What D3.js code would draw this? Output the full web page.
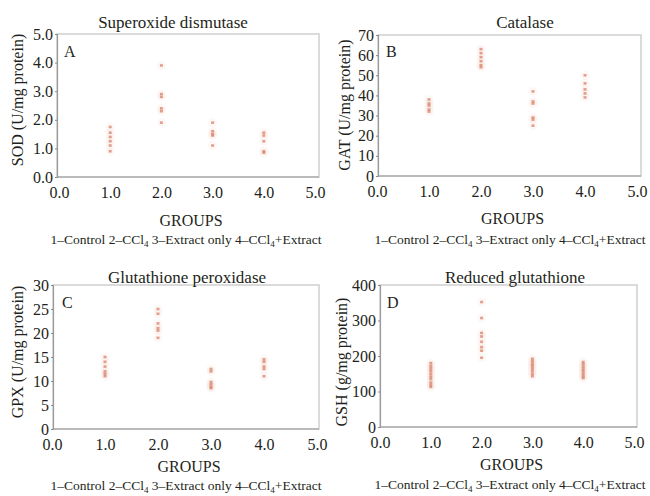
<!DOCTYPE html>
<html>
<head>
<meta charset="utf-8">
<script src="https://cdn.jsdelivr.net/npm/d3@7/dist/d3.min.js"></script>
<style>
  html, body { margin: 0; padding: 0; background: #fff; }
  svg { display: block; }
  text { font-family: "Liberation Serif", "Times New Roman", serif; fill: #231f20; }
</style>
</head>
<body>
<svg id="chart" width="650" height="496"></svg>
<script>
// ---- data ----
const groups = [1, 2, 3, 4];
const xTickValues = [0, 1, 2, 3, 4, 5];
const footnote = ["1–Control 2–CCl", "4", " 3–Extract only 4–CCl", "4", "+Extract"];

const sodValues = [[1.75, 1.55, 1.4, 1.25, 1.1, 0.9], [3.9, 2.9, 2.8, 2.4, 2.3, 1.9], [1.9, 1.6, 1.5, 1.45, 1.1], [1.55, 1.45, 1.25, 0.9, 0.85]];
const sodTicks = [0, 1, 2, 3, 4, 5];
const catValues = [[38, 36, 35, 33, 32], [63, 61, 59, 57, 55, 54], [42, 37, 36, 29, 28, 25], [50, 46, 43, 41, 39]];
const catTicks = [0, 10, 20, 30, 40, 50, 60, 70];
const gpxValues = [[15, 14, 13, 12, 11.5, 11], [25, 24, 22, 21, 20.5, 19], [12.5, 12, 9.8, 9.3, 8.8, 8.5], [14.5, 14, 13, 12.5, 11]];
const gpxTicks = [0, 5, 10, 15, 20, 25, 30];
const gshValues = [[180, 172, 165, 158, 150, 142, 135, 125, 118, 113], [352, 307, 265, 255, 240, 225, 215, 195], [192, 185, 178, 172, 165, 158, 150, 143], [183, 177, 170, 163, 157, 150, 143, 138]];
const gshTicks = [0, 100, 200, 300, 400];

const panels = [
  { letter: "A", title: "Superoxide dismutase", ylab: "SOD (U/mg protein)", values: sodValues, ticks: sodTicks, fmt: ".1f",
    left: 57, right: 319, top: 34, bottom: 177, xr: [59, 315], titleX: 173, titleY: 28, ylabX: 23, ylabY: 100,
    groupsY: 226, footX: 186, footY: 244, letterX: 64, letterY: 57 },
  { letter: "B", title: "Catalase", ylab: "GAT (U/mg protein)", values: catValues, ticks: catTicks, fmt: "d",
    left: 378, right: 641, top: 35, bottom: 176, xr: [377, 637], titleX: 525, titleY: 28, ylabX: 350, ylabY: 105,
    groupsY: 224, footX: 510, footY: 244, letterX: 386, letterY: 57 },
  { letter: "C", title: "Glutathione peroxidase", ylab: "GPX (U/mg protein)", values: gpxValues, ticks: gpxTicks, fmt: "d",
    left: 53, right: 319, top: 285, bottom: 429, xr: [52, 317], titleX: 187, titleY: 283, ylabX: 23, ylabY: 352,
    groupsY: 472, footX: 186, footY: 490, letterX: 62, letterY: 308 },
  { letter: "D", title: "Reduced glutathione", ylab: "GSH (g/mg protein)", values: gshValues, ticks: gshTicks, fmt: "d",
    left: 380, right: 637, top: 285, bottom: 427, xr: [380, 634], titleX: 515, titleY: 283, ylabX: 347, ylabY: 362,
    groupsY: 470, footX: 510, footY: 489, letterX: 387, letterY: 308 }
];

const svg = d3.select("#chart");
const SERIF = '"Liberation Serif", "Times New Roman", serif';

panels.forEach(p => {
  const g = svg.append("g");
  const x = d3.scaleLinear().domain([0, 5]).range(p.xr);
  const yMax = p.ticks[p.ticks.length - 1];
  const y = d3.scaleLinear().domain([0, yMax]).range([p.bottom, p.top]);

  // frame
  g.append("rect").attr("x", p.left).attr("y", p.top)
    .attr("width", p.right - p.left).attr("height", p.bottom - p.top)
    .attr("fill", "none").attr("stroke", "#cfcfcf").attr("stroke-width", 1.5);

  // y axis
  const ya = g.append("g").attr("transform", `translate(${p.left},0)`)
    .call(d3.axisLeft(y).tickValues(p.ticks).tickFormat(d3.format(p.fmt)).tickSize(2).tickPadding(2));
  ya.attr("font-family", null);
  ya.select(".domain").attr("stroke", "#9a9a9a").attr("stroke-width", 1.2);
  ya.selectAll(".tick line").attr("stroke", "#888");
  ya.selectAll("text").style("font-family", SERIF).style("font-size", "16px").attr("fill", "#231f20");

  // x axis
  const xa = g.append("g").attr("transform", `translate(0,${p.bottom})`)
    .call(d3.axisBottom(x).tickValues(xTickValues).tickFormat(d3.format(".1f")).tickSize(0).tickPadding(10));
  xa.attr("font-family", null);
  xa.select(".domain").attr("stroke", "#9a9a9a").attr("stroke-width", 1.2)
    .attr("d", `M${p.left},0H${p.right}`);
  xa.selectAll("text").style("font-family", SERIF).style("font-size", "16px").attr("fill", "#231f20");

  // points
  p.values.forEach((vals, i) => {
    const gx = x(groups[i]);
    g.selectAll(null).data(vals).enter().append("circle")
      .attr("cx", gx).attr("cy", d => y(d)).attr("r", 4.5)
      .attr("fill", "#e8a090").attr("opacity", 0.08);
    g.selectAll(null).data(vals).enter().append("rect")
      .attr("x", gx - 1.5).attr("y", d => y(d) - 1.3)
      .attr("width", 3).attr("height", 2.6)
      .attr("fill", "#d47a64").attr("opacity", 0.7);
  });

  // title
  g.append("text").attr("x", p.titleX).attr("y", p.titleY).attr("text-anchor", "middle")
    .attr("font-size", 17).text(p.title);
  // panel letter
  g.append("text").attr("x", p.letterX).attr("y", p.letterY).attr("font-size", 16).text(p.letter);
  // y label
  g.append("text").attr("transform", `translate(${p.ylabX},${p.ylabY}) rotate(-90)`)
    .attr("text-anchor", "middle").attr("font-size", 16).text(p.ylab);
  // x label
  g.append("text").attr("x", (p.left + p.right) / 2 + 3).attr("y", p.groupsY).attr("text-anchor", "middle")
    .attr("font-size", 16).text("GROUPS");
  // footnote
  const ft = g.append("text").attr("x", p.footX).attr("y", p.footY).attr("text-anchor", "middle")
    .attr("font-size", 13.5);
  ft.append("tspan").text(footnote[0]);
  ft.append("tspan").attr("dy", 3).attr("font-size", 9).text(footnote[1]);
  ft.append("tspan").attr("dy", -3).text(footnote[2]);
  ft.append("tspan").attr("dy", 3).attr("font-size", 9).text(footnote[3]);
  ft.append("tspan").attr("dy", -3).text(footnote[4]);
});
</script>
</body>
</html>
